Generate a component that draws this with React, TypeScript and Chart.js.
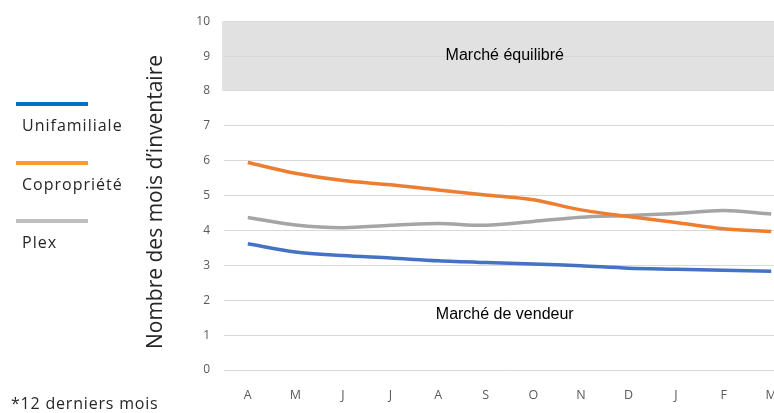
import React, { useEffect, useRef } from "react";
import { Chart, registerables } from "chart.js";

Chart.register(...registerables);

const months = ["A", "M", "J", "J", "A", "S", "O", "N", "D", "J", "F", "M"];
const unifamiliale = [3.62, 3.38, 3.28, 3.21, 3.13, 3.08, 3.04, 2.99, 2.92, 2.89, 2.86, 2.83];
const copropriete = [5.95, 5.64, 5.43, 5.31, 5.16, 5.02, 4.88, 4.59, 4.4, 4.23, 4.05, 3.97];
const plex = [4.37, 4.16, 4.08, 4.15, 4.2, 4.15, 4.26, 4.38, 4.43, 4.49, 4.57, 4.47];
const seriesNames = ["Unifamiliale", "Copropriété", "Plex"];
const lineColors = ["#4472C4", "#ED7D31", "#A5A5A5"];
const legendColors = ["#0070C0", "#FF9933", "#BFBFBF"];
const yMin = 0;
const yMax = 10;
const bandMin = 8;
const bandMax = 10;
const bandLabel = "Marché équilibré";
const lowLabel = "Marché de vendeur";
const lowLabelValue = 1.6;
const labelXValue = 5.4;
const yTitle = "Nombre des mois d\u2019inventaire";
const footnote = "*12 derniers mois";

const PAD_LEFT = 146;
const PLOT_LEFT = 224;

const bandPlugin = {
  id: "bandPlugin",
  beforeDraw(chart: any) {
    const { ctx, chartArea, scales } = chart;
    const y = scales.y;
    const top = y.getPixelForValue(bandMax);
    const bottom = y.getPixelForValue(bandMin);
    ctx.save();
    ctx.fillStyle = "#E1E1E1";
    ctx.fillRect(chartArea.left - 2, top, chartArea.right - chartArea.left + 2, bottom - top);
    ctx.restore();
  },
  afterDatasetsDraw(chart: any) {
    const { ctx, scales } = chart;
    const x = scales.x.getPixelForValue(labelXValue);
    ctx.save();
    ctx.fillStyle = "#000000";
    ctx.font = "16px 'Liberation Sans', Arial, sans-serif";
    ctx.textAlign = "center";
    ctx.textBaseline = "middle";
    ctx.fillText(bandLabel, x, scales.y.getPixelForValue((bandMin + bandMax) / 2));
    ctx.fillText(lowLabel, x, scales.y.getPixelForValue(lowLabelValue));
    // y axis title
    ctx.translate(156, 202);
    ctx.rotate(-Math.PI / 2);
    ctx.fillStyle = "#262626";
    ctx.font = "21px 'Open Sans', sans-serif";
    ctx.fillText(yTitle, 0, 0);
    ctx.restore();
  },
};

export default function App() {
  const ref = useRef<HTMLCanvasElement | null>(null);

  useEffect(() => {
    if (!ref.current) return;
    const data = [unifamiliale, copropriete, plex];
    const chart = new Chart(ref.current, {
      type: "line",
      data: {
        labels: months,
        datasets: data.map((d, i) => ({
          label: seriesNames[i],
          data: d,
          borderColor: lineColors[i],
          backgroundColor: lineColors[i],
          borderWidth: 3.5,
          pointRadius: 0,
          tension: 0.3,
          fill: false,
        })),
      },
      options: {
        animation: false,
        responsive: false,
        maintainAspectRatio: false,
        layout: { padding: { left: PAD_LEFT, right: 5, top: 15, bottom: 0 } },
        plugins: {
          legend: { display: false },
          tooltip: { enabled: false },
        },
        scales: {
          x: {
            offset: true,
            grid: { display: false, offset: true },
            border: { display: false },
            ticks: {
              color: "#595959",
              font: { family: "'Open Sans', sans-serif", size: 12.5 },
              padding: 10,
              maxRotation: 0,
              autoSkip: false,
            },
          },
          y: {
            min: yMin,
            max: yMax,
            afterFit: (s: any) => {
              s.width = PLOT_LEFT - PAD_LEFT;
            },
            grid: { color: "#D9D9D9", drawTicks: false, lineWidth: 1 },
            border: { display: false },
            ticks: {
              stepSize: 1,
              color: "#595959",
              font: { family: "'Open Sans', sans-serif", size: 12 },
              padding: 14,
            },
          },
        },
      },
      plugins: [bandPlugin],
    });
    return () => chart.destroy();
  }, []);

  const legendTop = [102, 161, 219];
  return (
    <div
      style={{
        position: "fixed",
        left: 0,
        top: 0,
        width: 774,
        height: 413,
        overflow: "hidden",
        background: "#fff",
      }}
    >
      <canvas ref={ref} width={800} height={413} style={{ position: "absolute", left: 0, top: 0 }} />
      {seriesNames.map((n, i) => (
        <React.Fragment key={n}>
          <div
            style={{
              position: "absolute",
              left: 16,
              top: legendTop[i],
              width: 72,
              height: 4,
              background: legendColors[i],
            }}
          />
          <div
            style={{
              position: "absolute",
              left: 22,
              top: legendTop[i] + 12,
              font: "16px 'Open Sans', sans-serif",
              letterSpacing: "1px",
              color: "#262626",
              lineHeight: "22px",
              whiteSpace: "nowrap",
            }}
          >
            {n}
          </div>
        </React.Fragment>
      ))}
      <div
        style={{
          position: "absolute",
          left: 11,
          top: 392,
          font: "16px 'Open Sans', sans-serif",
          letterSpacing: "0.8px",
          color: "#262626",
          lineHeight: "22px",
          whiteSpace: "nowrap",
        }}
      >
        {footnote}
      </div>
    </div>
  );
}
